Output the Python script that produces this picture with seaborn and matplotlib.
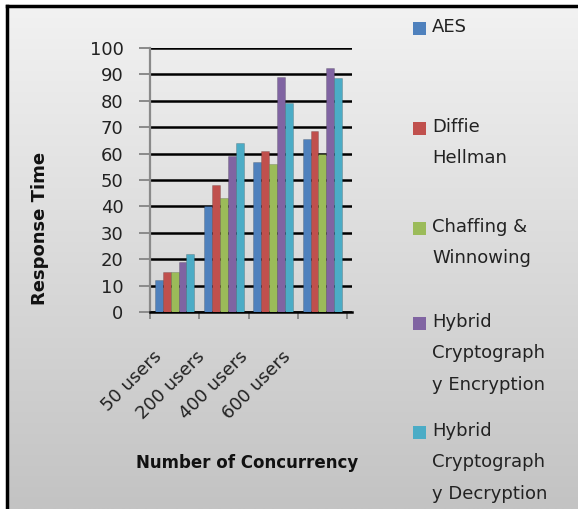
import numpy as np
import pandas as pd
import matplotlib
matplotlib.use("Agg")
import matplotlib.pyplot as plt
from matplotlib.patches import Rectangle
import matplotlib.transforms as mtrans
import seaborn as sns

categories = ["50 users", "200 users", "400 users", "600 users"]
series = ["AES", "Diffie Hellman", "Chaffing & Winnowing",
          "Hybrid Cryptography Encryption", "Hybrid Cryptography Decryption"]
legend_labels = ["AES", "Diffie\nHellman", "Chaffing &\nWinnowing",
                 "Hybrid\nCryptograph\ny Encryption", "Hybrid\nCryptograph\ny Decryption"]
aes = [12, 40, 57, 65.5]
diffie = [15, 48, 61, 68.5]
chaffing = [15, 43, 56, 60]
hybrid_enc = [19, 59, 89, 92.5]
hybrid_dec = [22, 64, 79, 88.5]
yticks = list(range(0, 101, 10))

colors = ["#4F81BD", "#C0504D", "#9BBB59", "#8064A2", "#4BACC6"]

rows = []
for name, vals in zip(series, [aes, diffie, chaffing, hybrid_enc, hybrid_dec]):
    for c, v in zip(categories, vals):
        rows.append({"Category": c, "Series": name, "Value": v})
df = pd.DataFrame(rows)

sns.set_theme(style="white")
plt.rcParams["font.family"] = ["DejaVu Sans"]
FS = 13

W, H = 578, 509
fig = plt.figure(figsize=(W / 100, H / 100), dpi=100)
fig.patch.set_facecolor("white")

# background gradient panel with frame
bg = fig.add_axes([7 / W, 0, 1 - 7 / W, 1 - 6 / H], zorder=-5)
grad = np.linspace(0, 1, 256).reshape(-1, 1)
bg.imshow(grad, aspect="auto", cmap=matplotlib.colors.LinearSegmentedColormap.from_list(
    "g", ["#f2f2f2", "#c3c3c3"]), extent=[0, 1, 1, 0])
bg.set_xticks([]); bg.set_yticks([])
for s in ["right", "bottom"]:
    bg.spines[s].set_visible(False)
for s in ["left", "top"]:
    bg.spines[s].set_color("black")
    bg.spines[s].set_linewidth(2.5)

ax = fig.add_axes([150 / W, 1 - 312 / H, 202 / W, 264 / H])
ax.patch.set_alpha(0)
sns.barplot(data=df, x="Category", y="Value", hue="Series", palette=colors,
            width=0.8, gap=0.0, ax=ax, legend=False, saturation=1,
            edgecolor="#00000030", linewidth=0.6, zorder=3)
ax.set_ylim(0, 100)
ax.set_xlim(-0.5, 3.6)
ax.set_yticks(yticks)
ax.set_yticklabels([str(t) for t in yticks], fontsize=FS, color="#222222")
ax.yaxis.grid(True, color="black", linewidth=1.8, zorder=0)
ax.set_axisbelow(True)
ax.tick_params(axis="y", length=8, width=1.4, color="#8a8a8a", left=True, pad=11)
ax.set_xticks(range(len(categories)))
ax.set_xticklabels(categories, rotation=45, ha="right", va="center",
                   rotation_mode="anchor", fontsize=FS, color="#222222")
ax.tick_params(axis="x", length=0, pad=30)
for i, lbl in enumerate(ax.get_xticklabels()):
    offset = mtrans.ScaledTranslation((-16 - 6 * i) / 100, 0, fig.dpi_scale_trans)
    lbl.set_transform(lbl.get_transform() + offset)
ax.set_xticks([-0.5, 0.5, 1.5, 2.5, 3.5], minor=True)
ax.tick_params(axis="x", which="minor", length=5, width=1.4, color="#8a8a8a", bottom=True)
ax.set_xlabel(""); ax.set_ylabel("")
for s in ["top", "right"]:
    ax.spines[s].set_visible(False)
ax.spines["left"].set_color("#8a8a8a")
ax.spines["left"].set_linewidth(1.6)
ax.spines["bottom"].set_color("black")
ax.spines["bottom"].set_linewidth(1.8)

fig.text(40 / W, 1 - 228 / H, "Response Time", rotation=90, ha="center", va="center",
         fontsize=FS, fontweight="bold", color="#111111")
fig.text(247 / W, 1 - 463 / H, "Number of Concurrency", ha="center", va="center",
         fontsize=12, fontweight="bold", color="#111111")

# legend
entry_y = [28, 128, 228, 323, 432]
for lab, col, yy in zip(legend_labels, colors, entry_y):
    fig.patches.append(Rectangle((413 / W, 1 - (yy + 7) / H), 13 / W, 13 / H,
                                 transform=fig.transFigure, facecolor=col, edgecolor="none"))
    fig.text(432 / W, 1 - (yy - 10) / H, lab, ha="left", va="top", fontsize=FS,
             color="#222222", linespacing=1.95)

fig.savefig("out.png", dpi=100)
